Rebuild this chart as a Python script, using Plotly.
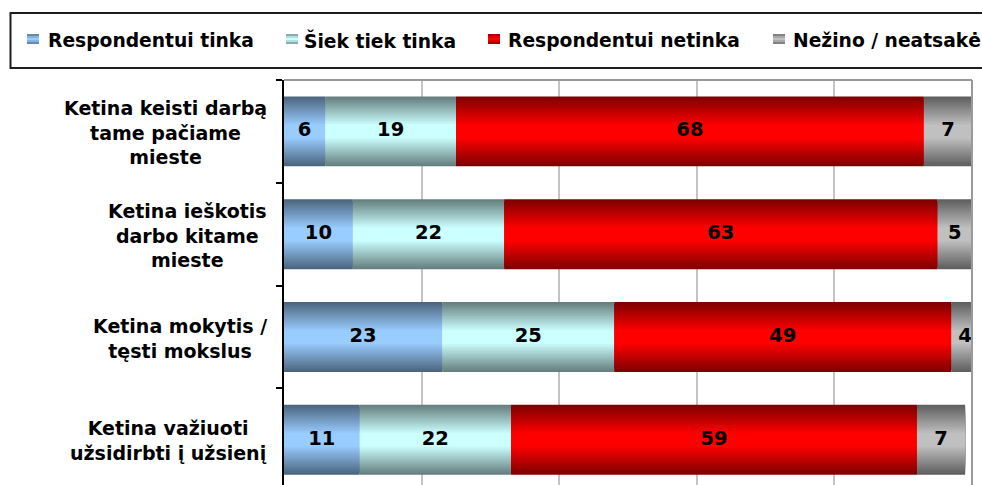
import plotly.graph_objects as go

# ---- data -------------------------------------------------------------
categories = [
    "Ketina keisti darbą<br>tame pačiame<br>mieste",
    "Ketina ieškotis<br>darbo kitame<br>mieste",
    "Ketina mokytis /<br>tęsti mokslus",
    "Ketina važiuoti<br>užsidirbti į užsienį",
]
series_names = ["Respondentui tinka", "Šiek tiek tinka", "Respondentui netinka", "Nežino / neatsakė"]
tinka = [6, 10, 23, 11]
siek_tiek = [19, 22, 25, 22]
netinka = [68, 63, 49, 59]
nezino = [7, 5, 4, 7]

# centre colour of each series; edges fade to half brightness
base_colors = [(0x99, 0xCC, 0xFF), (0xCC, 0xFF, 0xFF), (0xFF, 0x00, 0x00), (0xC0, 0xC0, 0xC0)]

FONT = "DejaVu Sans"
W, H = 982, 485
ML, MR, MT, MB = 284, 10, 80, 0
PW, PH = W - ML - MR, H - MT - MB


def fx(px):
    return (px - ML) / PW


def fy(py):
    return 1 - (py - MT) / PH


def shade(rgb, t):
    """t=0 -> dark edge, t=1 -> full colour."""
    f = 0.5 + 0.5 * t
    return "rgb(%d,%d,%d)" % tuple(round(c * f) for c in rgb)


values = [tinka, siek_tiek, netinka, nezino]

# stacked segment starts
bases = []
running = [0] * len(categories)
for vals in values:
    bases.append(list(running))
    running = [r + v for r, v in zip(running, vals)]

fig = go.Figure()

# vertical gradient built from nested bars of shrinking thickness
N = 20
BAR_W = 0.68
for k in range(N):
    t = min(1.0, k / (N * 0.8))
    w = BAR_W * (1 - k / N)
    ys, xs, bs, cs = [], [], [], []
    for s, vals in enumerate(values):
        for i, cat in enumerate(categories):
            ys.append(cat)
            xs.append(vals[i])
            bs.append(bases[s][i])
            cs.append(shade(base_colors[s], t))
    fig.add_trace(go.Bar(
        y=ys, x=xs, base=bs, orientation="h", width=w,
        marker=dict(color=cs, line=dict(width=0)),
        showlegend=False, hoverinfo="skip",
    ))

# value labels in the middle of each segment
lx, ly, lt = [], [], []
for s, vals in enumerate(values):
    for i, cat in enumerate(categories):
        lx.append(bases[s][i] + vals[i] / 2)
        ly.append(cat)
        lt.append(str(vals[i]))
fig.add_trace(go.Scatter(
    x=lx, y=ly, text=lt, mode="text", textposition="middle center",
    textfont=dict(family=FONT, size=19.5, color="black", weight="bold"),
    showlegend=False, hoverinfo="skip", cliponaxis=False,
))

# category labels, centred lines
annotations = []
for cat in categories:
    annotations.append(dict(
        x=0, xref="paper", y=cat, yref="y", xanchor="right", yanchor="middle",
        xshift=-15, yshift=-1, align="center", showarrow=False, text=cat,
        font=dict(family=FONT, size=19, color="black", weight="bold"),
    ))

shapes = []
# plot frame: grey top and right edges
shapes.append(dict(type="line", xref="paper", yref="paper", x0=0, x1=1, y0=1, y1=1,
                   line=dict(color="#9a9a9a", width=2)))
shapes.append(dict(type="line", xref="paper", yref="paper", x0=1, x1=1, y0=0, y1=1,
                   line=dict(color="#9a9a9a", width=2)))

# legend box (runs past the right edge of the page)
shapes.append(dict(type="rect", xref="paper", yref="paper",
                   x0=fx(10.5), x1=fx(1100), y0=fy(68), y1=fy(13),
                   line=dict(color="#1e1e1e", width=2), fillcolor="white", layer="below"))

legend_marker_x = [27, 286, 488, 773]
legend_text_x = [46, 302, 506, 791]
stripe_t = [0.35, 0.75, 1.0, 0.75, 0.35]
for s, name in enumerate(series_names):
    x0 = legend_marker_x[s]
    for j, t in enumerate(stripe_t):
        shapes.append(dict(type="rect", xref="paper", yref="paper",
                           x0=fx(x0), x1=fx(x0 + 12),
                           y0=fy(34 + 2 * (j + 1)), y1=fy(34 + 2 * j),
                           line=dict(width=0), fillcolor=shade(base_colors[s], t)))
    annotations.append(dict(
        x=fx(legend_text_x[s]), xref="paper", y=fy(40), yref="paper",
        xanchor="left", yanchor="middle", showarrow=False, text=name,
        font=dict(family=FONT, size=18.7, color="black", weight="bold"),
    ))

fig.update_layout(
    width=W, height=H,
    margin=dict(l=ML, r=MR, t=MT, b=MB, pad=0),
    barmode="overlay",
    paper_bgcolor="white", plot_bgcolor="white",
    showlegend=False,
    annotations=annotations, shapes=shapes,
    xaxis=dict(range=[0, 100], dtick=20, showgrid=True, gridcolor="#c4c4c4", gridwidth=1.5,
               zeroline=False, showticklabels=False, showline=False, fixedrange=True),
    yaxis=dict(type="category", categoryarray=categories, categoryorder="array",
               range=[-0.5 + PH / 102.8, -0.5], showgrid=False, zeroline=False,
               showticklabels=False, showline=True, linecolor="black", linewidth=2,
               ticks="outside", tickson="boundaries", ticklen=6, tickcolor="black",
               tickwidth=1.5),
)

fig.write_html("out.html")
